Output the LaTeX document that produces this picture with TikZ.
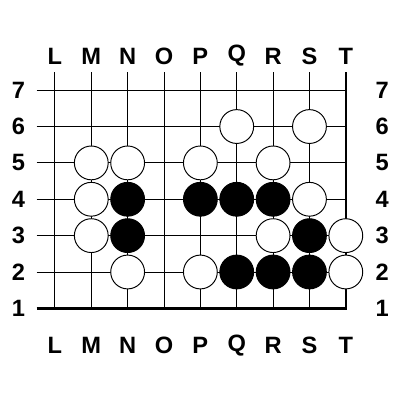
\documentclass[tikz,border=0pt]{standalone}
\usepackage{fontspec}
\setsansfont{Liberation Sans}
\usepackage{tikz}
\usetikzlibrary{positioning}

\begin{document}
\begin{tikzpicture}[x=1cm, y=1cm,
    grid/.style={line width=0.75pt},
    edge/.style={line width=2pt},
    lbl/.style={font=\sffamily\bfseries\fontsize{18.5}{18.5}\selectfont, inner sep=0pt},
    white stone/.style={circle, draw, line width=0.75pt, fill=white, minimum size=0.93cm, inner sep=0pt},
    black stone/.style={circle, draw, line width=0.75pt, fill=black, minimum size=0.93cm, inner sep=0pt}]
    \useasboundingbox (-1.51, -1.52) rectangle (9.49, 9.48);
    % board lines
    \foreach \r in {2,...,7}
        \draw[grid] (-0.5, \r) -- (8, \r);
    \foreach \c in {0,...,7}
        \draw[grid] (\c, 1) -- (\c, 7.5);
    \draw[edge] (-0.5, 1) -- (8, 1) -- (8, 7.5);
    % coordinates
    \foreach \c/\l in {0/L, 1/M, 2/N, 3/O, 4/P, 5/Q, 6/R, 7/S, 8/T} {
        \node[lbl] (top\l) at (\c, 7.94) {\l};
        \node[lbl] (bot\l) at (\c, -0.01) {\l};
    }
    \foreach \r in {1,...,7} {
        \node[lbl] (left\r) at (-1.0, \r) {\r};
        \node[lbl] (right\r) at (9.0, \r) {\r};
    }
    % white stones
    \foreach \c/\r/\n in {5/6/Q6, 7/6/S6, 1/5/M5, 2/5/N5, 4/5/P5, 6/5/R5, 1/4/M4, 7/4/S4,
                          1/3/M3, 6/3/R3, 8/3/T3, 2/2/N2, 4/2/P2, 8/2/T2}
        \node[white stone] (\n) at (\c, \r) {};
    % black stones
    \foreach \c/\r/\n in {2/4/N4, 4/4/P4, 5/4/Q4, 6/4/R4, 2/3/N3, 7/3/S3, 5/2/Q2, 6/2/R2, 7/2/S2}
        \node[black stone] (\n) at (\c, \r) {};
\end{tikzpicture}
\end{document}
